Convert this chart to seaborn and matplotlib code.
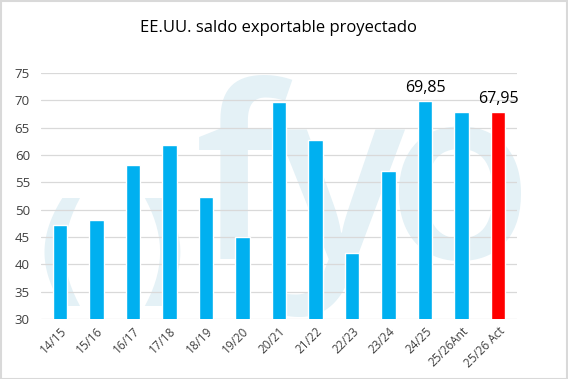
import matplotlib
matplotlib.use("Agg")
import matplotlib.pyplot as plt
import seaborn as sns
import pandas as pd
from matplotlib.patches import Rectangle

categories = ["14/15", "15/16", "16/17", "17/18", "18/19", "19/20", "20/21",
              "21/22", "22/23", "23/24", "24/25", "25/26Ant", "25/26 Act"]
values = [47.2, 48.1, 58.2, 61.9, 52.3, 45.0, 69.7, 62.8, 42.1, 57.1, 69.85, 67.9, 67.95]
labels = {"24/25": "69,85", "25/26 Act": "67,95"}
yticks = [30, 35, 40, 45, 50, 55, 60, 65, 70, 75]

df = pd.DataFrame({"cat": categories, "val": values})
palette = {c: ("#ff0000" if c == "25/26 Act" else "#00b0f0") for c in categories}

sns.set_theme(style="white")
plt.rcParams["font.family"] = ["Open Sans", "DejaVu Sans"]

W, H = 568, 379
fig = plt.figure(figsize=(W / 100, H / 100), dpi=100)
ax = fig.add_axes([41/W, 1-319/H, (517-41)/W, (319-73)/H])
ax.patch.set_alpha(0)

# watermark logo "()fyo"
wm = "#e4f1f6"
fig.text(61/W, 1-257/H, "(", fontsize=88, fontweight="bold", color=wm,
         family="DejaVu Sans", ha="center", va="center", zorder=-1)
fig.text(162/W, 1-257/H, ")", fontsize=88, fontweight="bold", color=wm,
         family="DejaVu Sans", ha="center", va="center", zorder=-1)
for ch, xc in [("f", 238), ("y", 340), ("o", 459)]:
    fig.text(xc/W, 1-259/H, ch, fontsize=172, fontweight="semibold", color=wm,
             ha="center", va="baseline", zorder=-1)

sns.barplot(data=df, x="cat", y="val", hue="cat", palette=palette, width=0.39,
            legend=False, ax=ax, zorder=3, saturation=1)

ax.set_ylim(30, 75)
ax.set_xlim(-0.52, len(categories) - 0.48)
ax.set_yticks(yticks)
ax.yaxis.grid(True, color="#d9d9d9", linewidth=0.9, zorder=1)
ax.set_axisbelow(True)
for s in ax.spines.values():
    s.set_visible(False)
ax.set_xlabel("")
ax.set_ylabel("")
ax.tick_params(axis="y", length=0, pad=8, labelsize=9.5, labelcolor="#404040")
ax.tick_params(axis="x", length=0, pad=4, labelsize=8.5, labelcolor="#404040")
ax.set_xticks(range(len(categories)))
ax.set_xticklabels(categories, rotation=45, ha="right", rotation_mode="anchor")

for i, c in enumerate(categories):
    if c in labels:
        ax.text(i, values[i] + 0.9, labels[c], ha="center", va="bottom",
                fontsize=11.5, color="#000000")

fig.text(0.49, 1-28/H, "EE.UU. saldo exportable proyectado", ha="center", va="center",
         fontsize=12, color="#000000")

fig.add_artist(Rectangle((0.001, 0.001), 0.997, 0.997, transform=fig.transFigure,
                         fill=False, edgecolor="#d9d9d9", linewidth=1.5))

fig.savefig("out.png", dpi=100)
